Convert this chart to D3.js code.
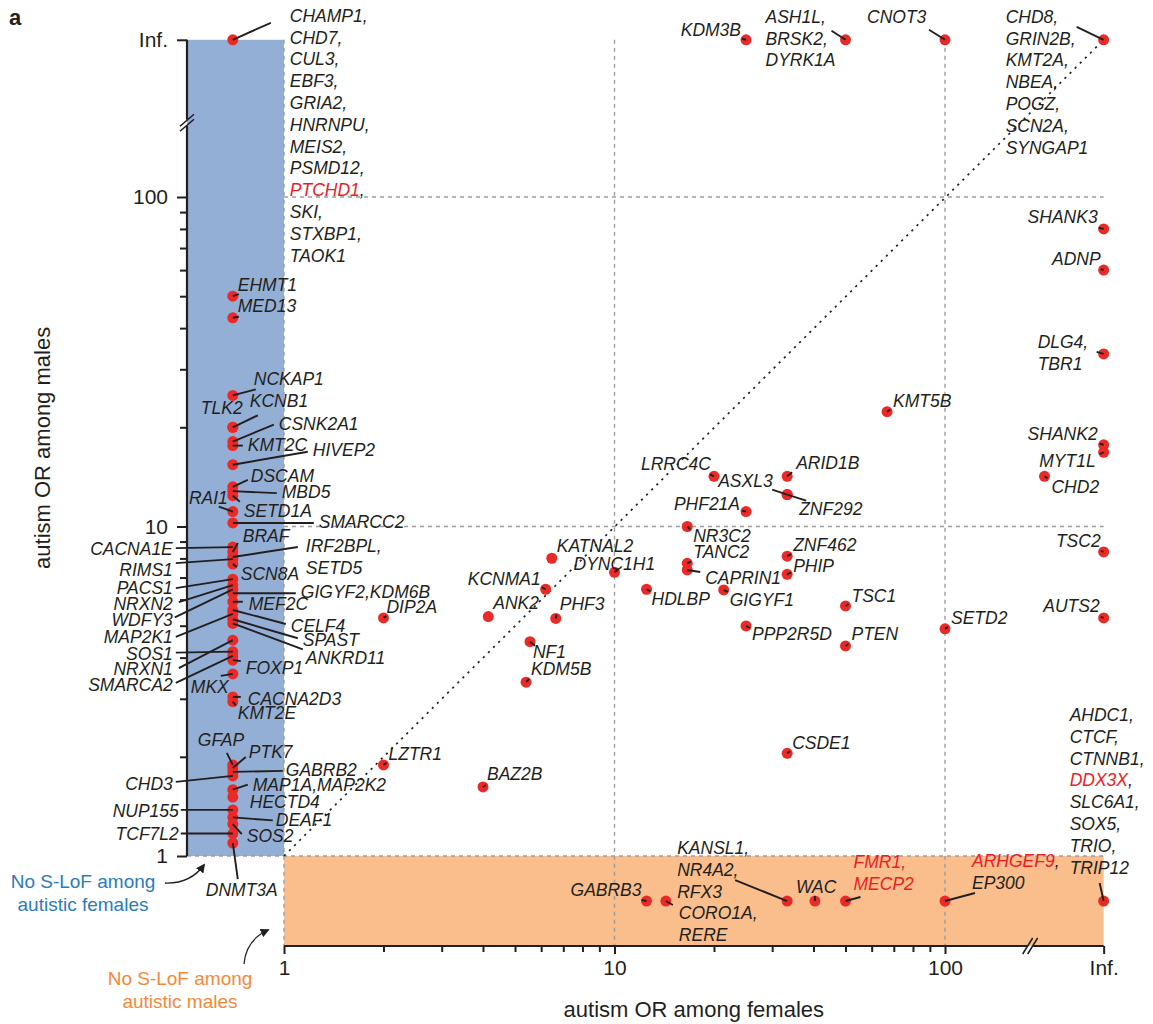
<!DOCTYPE html>
<html>
<head>
<meta charset="utf-8">
<script src="https://cdn.jsdelivr.net/npm/d3@7"></script>
<style>
  body { margin: 0; background: #fff; }
  text { font-family: "Liberation Sans", Arial, Helvetica, sans-serif; }
</style>
</head>
<body>
<svg id="chart" width="1153" height="1024"></svg>
<script>
// ---- data: gene groups sharing one point, with odds ratios ----
// 0 = no S-LoF among autistic carriers of that sex, Infinity = "Inf."
const genes = [
  ["CHAMP1","CHD7","CUL3","EBF3","GRIA2","HNRNPU","MEIS2","PSMD12","PTCHD1","SKI","STXBP1","TAOK1"],
  ["EHMT1"],["MED13"],["NCKAP1"],["TLK2"],["KCNB1"],["CSNK2A1"],["KMT2C"],["HIVEP2"],
  ["DSCAM"],["MBD5"],["SETD1A"],["RAI1"],["SMARCC2"],["CACNA1E"],["BRAF"],["IRF2BPL","SETD5"],
  ["RIMS1"],["SCN8A"],["PACS1"],["NRXN2"],["WDFY3"],["GIGYF2","KDM6B"],["MEF2C"],["CELF4"],
  ["MAP2K1"],["SPAST"],["ANKRD11"],["NRXN1"],["SOS1"],["SMARCA2"],["FOXP1"],["MKX"],
  ["CACNA2D3"],["KMT2E"],["GFAP"],["PTK7"],["GABRB2"],["CHD3"],["MAP1A","MAP2K2"],["HECTD4"],
  ["NUP155"],["DEAF1"],["SOS2"],["TCF7L2"],["DNMT3A"],
  ["DIP2A"],["LZTR1"],["BAZ2B"],["KATNAL2"],["DYNC1H1"],["KCNMA1"],["ANK2"],["PHF3"],["NF1"],
  ["KDM5B"],["NR3C2"],["TANC2"],["CAPRIN1"],["HDLBP"],["GIGYF1"],["PPP2R5D"],["ZNF462"],["PHIP"],
  ["TSC1"],["PTEN"],["SETD2"],["CSDE1"],["KMT5B"],["LRRC4C"],["ARID1B"],["ASXL3"],["ZNF292"],["PHF21A"],
  ["SHANK3"],["ADNP"],["DLG4","TBR1"],["SHANK2"],["MYT1L"],["CHD2"],["TSC2"],["AUTS2"],
  ["KDM3B"],["ASH1L","BRSK2","DYRK1A"],["CNOT3"],
  ["CHD8","GRIN2B","KMT2A","NBEA","POGZ","SCN2A","SYNGAP1"],
  ["GABRB3"],["CORO1A","RERE"],["KANSL1","NR4A2","RFX3"],["WAC"],["FMR1","MECP2"],["ARHGEF9","EP300"],
  ["AHDC1","CTCF","CTNNB1","DDX3X","SLC6A1","SOX5","TRIO","TRIP12"]
];

const orFemales = [
  0,
  0,0,0,0,0,0,0,0,
  0,0,0,0,0,0,0,0,
  0,0,0,0,0,0,0,0,
  0,0,0,0,0,0,0,0,
  0,0,0,0,0,0,0,0,
  0,0,0,0,0,
  2.0,2.0,4.0,6.46,10.0,6.19,4.15,6.64,5.55,
  5.40,16.6,16.6,16.6,12.5,21.4,25.0,33.3,33.3,
  50,50,100,33.3,66.8,20.0,33.3,33.3,33.3,25.0,
  Infinity,Infinity,Infinity,Infinity,Infinity,200,Infinity,Infinity,
  25,50,100,
  Infinity,
  12.5,14.3,33.3,40.4,50,100,
  Infinity
];

const orMales = [
  Infinity,
  50,43,25,20,20,18.1,17.6,15.4,
  13.2,12.8,12.4,11.1,10.25,8.66,8.37,8.08,
  7.96,7.69,6.92,6.64,6.44,6.27,5.91,5.58,
  5.43,5.23,5.08,4.52,4.17,4.05,3.93,3.57,
  3.04,2.94,1.89,1.85,1.80,1.75,1.59,1.51,
  1.38,1.31,1.25,1.17,1.095,
  5.28,1.89,1.62,8.01,7.26,6.45,5.33,5.26,4.47,
  3.37,10.0,7.73,7.38,6.45,6.42,4.99,8.13,7.16,
  5.74,4.34,4.89,2.05,22.3,14.2,14.2,12.5,12.5,11.1,
  80,60,33.4,17.7,16.8,14.2,8.37,5.28,
  Infinity,Infinity,Infinity,
  Infinity,
  0,0,0,0,0,0,
  0
];

// X-chromosome genes, printed in red
const xLinked = ["PTCHD1","DDX3X","FMR1","MECP2","ARHGEF9"];

const majorTicks = [1, 10, 100];
const minorTicks = [2,3,4,5,6,7,8,9,20,30,40,50,60,70,80,90];
const infLabel = "Inf.";
const xTitle = "autism OR among females";
const yTitle = "autism OR among males";
const femaleNote = ["No S-LoF among", "autistic females"];
const maleNote = ["No S-LoF among", "autistic males"];

// ---- label layout: offsets from each point (px), anchor, leader end ----
const labelPlacement = {
  CHAMP1:{dx:57,dy:-18,l:[38,-17]},
  EHMT1:{dx:5,dy:-5,l:[6,-2]},
  MED13:{dx:5,dy:-6,l:[6,-1]},
  NCKAP1:{dx:21,dy:-10,l:[23,-6]},
  TLK2:{dx:-32,dy:-13},
  KCNB1:{dx:17,dy:-20,l:[25,-12]},
  CSNK2A1:{dx:46,dy:-12,l:[41,-17]},
  KMT2C:{dx:15,dy:5,l:[10,0]},
  HIVEP2:{dx:80,dy:-9,l:[75,-13]},
  DSCAM:{dx:18,dy:-5,l:[15,-7]},
  MBD5:{dx:49,dy:7,l:[44,2]},
  SETD1A:{dx:11,dy:21,l:[7,6]},
  RAI1:{dx:-5,dy:-8,a:"end",l:[-14,-5]},
  SMARCC2:{dx:86,dy:5,l:[81,0]},
  CACNA1E:{dx:-60,dy:8,a:"end",l:[-57,1]},
  BRAF:{dx:10,dy:-10,l:[5,-9]},
  IRF2BPL:{dx:73,dy:-5,l:[65,-10]},
  RIMS1:{dx:-60,dy:17,a:"end",l:[-57,4]},
  SCN8A:{dx:8,dy:16,l:[4,3]},
  PACS1:{dx:-60,dy:15,a:"end",l:[-57,9]},
  NRXN2:{dx:-60,dy:25,a:"end",l:[-54,17]},
  WDFY3:{dx:-60,dy:37,a:"end",l:[-58,28]},
  GIGYF2:{dx:68,dy:5,l:[63,0],one:true},
  MEF2C:{dx:16,dy:8,l:[10,0]},
  CELF4:{dx:58,dy:22,l:[53,14]},
  MAP2K1:{dx:-60,dy:29,a:"end",l:[-57,23]},
  SPAST:{dx:70,dy:27,l:[65,19]},
  ANKRD11:{dx:73,dy:41,l:[70,26]},
  NRXN1:{dx:-60,dy:35,a:"end",l:[-54,28]},
  SOS1:{dx:-60,dy:8,a:"end",l:[-57,1]},
  SMARCA2:{dx:-60,dy:35,a:"end",l:[-57,27]},
  FOXP1:{dx:13,dy:14,l:[8,1]},
  MKX:{dx:-4,dy:19,a:"end",l:[-12,2]},
  CACNA2D3:{dx:15,dy:8,l:[8,0]},
  KMT2E:{dx:5,dy:17,l:[3,4]},
  GFAP:{dx:-35,dy:-19,l:[-6,-12]},
  PTK7:{dx:16,dy:-10,l:[13,-11]},
  GABRB2:{dx:53,dy:4,l:[50,-1]},
  CHD3:{dx:-60,dy:14,a:"end",l:[-57,6]},
  MAP1A:{dx:20,dy:1,l:[15,-5],one:true},
  HECTD4:{dx:17,dy:11},
  NUP155:{dx:-54,dy:7,a:"end",l:[-52,0]},
  DEAF1:{dx:43,dy:9,l:[40,3]},
  SOS2:{dx:14,dy:18,l:[9,10]},
  TCF7L2:{dx:-54,dy:6,a:"end",l:[-52,0]},
  DNMT3A:{dx:-27,dy:53,l:[5,36]},
  DIP2A:{dx:3,dy:-5,l:[3,-2]},
  LZTR1:{dx:5,dy:-5,l:[3,-2]},
  BAZ2B:{dx:4,dy:-7,l:[3,-2]},
  KATNAL2:{dx:5,dy:-6},
  DYNC1H1:{dx:-41,dy:-2,l:[4,-3]},
  KCNMA1:{dx:-5,dy:-4,a:"end",l:[-4,-2]},
  ANK2:{dx:5,dy:-8},
  PHF3:{dx:4,dy:-8,l:[1,-4]},
  NF1:{dx:3,dy:16,l:[5,4]},
  KDM5B:{dx:5,dy:-7,l:[3,-3]},
  NR3C2:{dx:6,dy:15,l:[3,3]},
  TANC2:{dx:6,dy:-5,l:[4,-2]},
  CAPRIN1:{dx:18,dy:14,l:[13,2]},
  HDLBP:{dx:5,dy:16,l:[4,2]},
  GIGYF1:{dx:6,dy:16,l:[4,2]},
  PPP2R5D:{dx:6,dy:14,l:[4,2]},
  ZNF462:{dx:6,dy:-5,l:[4,-2]},
  PHIP:{dx:6,dy:-2,l:[4,-2]},
  TSC1:{dx:6,dy:-4,l:[3,-2]},
  PTEN:{dx:6,dy:-6,l:[3,-2]},
  SETD2:{dx:6,dy:-5,l:[3,-2]},
  CSDE1:{dx:5,dy:-4,l:[3,-2]},
  KMT5B:{dx:6,dy:-5,l:[3,-2]},
  LRRC4C:{dx:-3,dy:-6,a:"end",l:[-4,-2]},
  ARID1B:{dx:9,dy:-7,l:[5,-4]},
  ASXL3:{dx:-69,dy:-8,l:[-15,-5]},
  ZNF292:{dx:12,dy:20,l:[19,6]},
  PHF21A:{dx:-6,dy:-2,a:"end",l:[-4,-1]},
  SHANK3:{dx:-6,dy:-6,a:"end",l:[-5,-1]},
  ADNP:{dx:-3,dy:-5,a:"end",l:[-3,-1]},
  DLG4:{dx:-66,dy:-6,l:[-7,-2]},
  SHANK2:{dx:-6,dy:-5,a:"end",l:[-4,-1]},
  MYT1L:{dx:-8,dy:15,a:"end",l:[-4,2]},
  CHD2:{dx:7,dy:17,l:[3,2]},
  TSC2:{dx:-3,dy:-5,a:"end",l:[-3,-1]},
  AUTS2:{dx:-4,dy:-6,a:"end",l:[-3,-1]},
  KDM3B:{dx:-5,dy:-4,a:"end",l:[-4,-1]},
  ASH1L:{dx:-80,dy:-17,l:[-14,-9]},
  CNOT3:{dx:-78,dy:-17,l:[-16,-10]},
  CHD8:{dx:-98,dy:-17,l:[-27,-13]},
  GABRB3:{dx:-5,dy:-5,a:"end",l:[-5,-1]},
  CORO1A:{dx:13,dy:18,l:[7,4]},
  KANSL1:{dx:-110,dy:-47,l:[-52,-21]},
  WAC:{dx:-19,dy:-8,l:[0,-5]},
  FMR1:{dx:8,dy:-33,l:[15,-4]},
  ARHGEF9:{dx:27,dy:-34,l:[30,-8]},
  AHDC1:{dx:-34,dy:-180,l:[-4,-18]}
};

// ---- scales ----
const INK = "#231f20", RED = "#ea2a27", RED_TXT = "#ed1c24";
const BLUE_FILL = "#94afd5", ORANGE_FILL = "#f9be8c";
const GRID = "#9d9d9d";
const LINE = 21.8;

// positions on the log axes used for "no S-LoF", the axis breaks and "Inf."
const X_NONE = 0.7, X_BREAK = 181, X_INF = 302;
const Y_NONE = 0.73, Y_BREAK = 168, Y_INF = 300;
const AXIS_X = 187, AXIS_Y = 946;

const x = d3.scaleLog().domain([1, 100]).range([284, 945]);
const y = d3.scaleLog().domain([1, 100]).range([856, 197]);
const xPos = v => x(v === 0 ? X_NONE : v === Infinity ? X_INF : v);
const yPos = v => y(v === 0 ? Y_NONE : v === Infinity ? Y_INF : v);

const svg = d3.select("#chart");

// shaded regions: no S-LoF among females (blue), among males (orange)
svg.append("rect")
  .attr("x", AXIS_X).attr("y", yPos(Infinity))
  .attr("width", x(1) - AXIS_X).attr("height", y(1) - yPos(Infinity))
  .attr("fill", BLUE_FILL);
svg.append("rect")
  .attr("x", x(1)).attr("y", y(1))
  .attr("width", xPos(Infinity) - x(1)).attr("height", AXIS_Y - y(1))
  .attr("fill", ORANGE_FILL);

// dashed reference lines
const grid = svg.append("g").attr("stroke", GRID).attr("stroke-width", 1.4)
  .attr("stroke-dasharray", "4,4").attr("fill", "none");
majorTicks.forEach(v => {
  grid.append("line").attr("x1", x(v)).attr("x2", x(v))
    .attr("y1", yPos(Infinity)).attr("y2", AXIS_Y);
});
[10, 100].forEach(v => {
  grid.append("line").attr("x1", x(1)).attr("x2", xPos(Infinity))
    .attr("y1", y(v)).attr("y2", y(v));
});
grid.append("line").attr("x1", AXIS_X).attr("x2", xPos(Infinity))
  .attr("y1", y(1)).attr("y2", y(1));

// equal-OR diagonal
svg.append("line")
  .attr("x1", x(1)).attr("y1", y(1))
  .attr("x2", xPos(Infinity)).attr("y2", yPos(Infinity))
  .attr("stroke", INK).attr("stroke-width", 1.7)
  .attr("stroke-dasharray", "2.2,5");

// ---- axes ----
function styleAxis(g, size) {
  g.select(".domain").remove();
  g.selectAll("line").attr("stroke", INK).attr("stroke-width", 2);
  g.selectAll("text").attr("fill", INK).attr("font-size", size)
    .attr("font-family", "Liberation Sans, Arial, sans-serif");
}
const fmt = d => (d === Y_INF || d === X_INF) ? infLabel : d3.format("d")(d);

svg.append("g").attr("transform", `translate(${AXIS_X},0)`)
  .call(d3.axisLeft(y).tickValues([...majorTicks, Y_INF]).tickFormat(fmt).tickSize(10).tickPadding(9))
  .call(g => styleAxis(g, 21));
svg.append("g").attr("transform", `translate(${AXIS_X},0)`)
  .call(d3.axisLeft(y).tickValues(minorTicks).tickFormat("").tickSize(7))
  .call(g => styleAxis(g, 21));

svg.append("g").attr("transform", `translate(0,${AXIS_Y})`)
  .call(d3.axisBottom(x).tickValues([...majorTicks, X_INF]).tickFormat(fmt).tickSize(8).tickPadding(6))
  .call(g => styleAxis(g, 21));
svg.append("g").attr("transform", `translate(0,${AXIS_Y})`)
  .call(d3.axisBottom(x).tickValues(minorTicks).tickFormat("").tickSize(6))
  .call(g => styleAxis(g, 21));

// axis lines with breaks
const yb = y(Y_BREAK), xb = x(X_BREAK);
const axisLines = svg.append("g").attr("stroke", INK).attr("stroke-width", 2.2).attr("fill", "none");
axisLines.append("line").attr("x1", AXIS_X).attr("x2", AXIS_X).attr("y1", yPos(Infinity)).attr("y2", yb - 3);
axisLines.append("line").attr("x1", AXIS_X).attr("x2", AXIS_X).attr("y1", yb + 3).attr("y2", y(1));
axisLines.append("line").attr("x1", x(1)).attr("x2", xb - 3).attr("y1", AXIS_Y).attr("y2", AXIS_Y);
axisLines.append("line").attr("x1", xb + 3).attr("x2", xPos(Infinity)).attr("y1", AXIS_Y).attr("y2", AXIS_Y);
const breaks = svg.append("g").attr("stroke", INK).attr("stroke-width", 1.6);
[-2.5, 2.5].forEach(o => {
  breaks.append("line").attr("x1", AXIS_X - 7).attr("y1", yb + o + 6).attr("x2", AXIS_X + 7).attr("y2", yb + o - 6);
  breaks.append("line").attr("x1", xb + o - 5).attr("y1", AXIS_Y + 8).attr("x2", xb + o + 5).attr("y2", AXIS_Y - 8);
});

// axis titles
svg.append("text").attr("x", (x(1) + xPos(Infinity)) / 2).attr("y", 1017)
  .attr("text-anchor", "middle").attr("font-size", 22).attr("fill", INK).text(xTitle);
svg.append("text")
  .attr("transform", `translate(50,${(yPos(Infinity) + y(1)) / 2}) rotate(-90)`)
  .attr("text-anchor", "middle").attr("font-size", 22).attr("fill", INK).text(yTitle);

// panel letter
svg.append("text").attr("x", 9).attr("y", 25).attr("font-size", 22)
  .attr("font-weight", "bold").attr("fill", INK).text("a");

// ---- points, leaders, labels ----
const pts = genes.map((set, i) => ({ set, px: xPos(orFemales[i]), py: yPos(orMales[i]), p: labelPlacement[set[0]] }));

svg.append("g").selectAll("circle").data(pts).join("circle")
  .attr("cx", d => d.px).attr("cy", d => d.py).attr("r", 5.5).attr("fill", RED);

svg.append("g").attr("stroke", INK).attr("stroke-width", 1.9).attr("stroke-linecap", "butt")
  .selectAll("line").data(pts.filter(d => d.p.l)).join("line")
  .attr("x1", d => d.px).attr("y1", d => d.py)
  .attr("x2", d => d.px + d.p.l[0]).attr("y2", d => d.py + d.p.l[1]);

const labels = svg.append("g").attr("font-size", 17.5).attr("font-style", "italic");
pts.forEach(d => {
  const lines = d.p.one ? [d.set] : d.set.map(g => [g]);
  lines.forEach((lineGenes, li) => {
    const t = labels.append("text")
      .attr("x", d.px + d.p.dx).attr("y", d.py + d.p.dy + li * LINE)
      .attr("text-anchor", d.p.a || "start");
    lineGenes.forEach(g => {
      const idx = d.set.indexOf(g);
      const red = xLinked.includes(g);
      t.append("tspan").attr("fill", red ? RED_TXT : INK).text(g);
      if (idx < d.set.length - 1) {
        const nextRed = xLinked.includes(d.set[idx + 1]);
        t.append("tspan").attr("fill", red && nextRed ? RED_TXT : INK).text(",");
      }
    });
  });
});

// ---- notes for the shaded regions ----
svg.append("defs").append("marker")
  .attr("id", "head").attr("viewBox", "0 0 10 10").attr("refX", 8).attr("refY", 5)
  .attr("markerWidth", 7).attr("markerHeight", 7).attr("orient", "auto-start-reverse")
  .append("path").attr("d", "M0,0 L10,5 L0,10 z").attr("fill", INK);

svg.append("path").attr("d", "M165,883 Q190,884 204,865")
  .attr("fill", "none").attr("stroke", INK).attr("stroke-width", 1.3).attr("marker-end", "url(#head)");
svg.append("path").attr("d", "M244,964 Q246,940 268,930")
  .attr("fill", "none").attr("stroke", INK).attr("stroke-width", 1.3).attr("marker-end", "url(#head)");

const noteF = svg.append("text").attr("font-size", 19).attr("fill", "#2b7bbb").attr("text-anchor", "middle");
femaleNote.forEach((s, i) => noteF.append("tspan").attr("x", 83).attr("y", 888 + i * 22.5).text(s));
const noteM = svg.append("text").attr("font-size", 19).attr("fill", "#f5883a").attr("text-anchor", "middle");
maleNote.forEach((s, i) => noteM.append("tspan").attr("x", 180).attr("y", 985 + i * 22.5).text(s));
</script>
</body>
</html>
